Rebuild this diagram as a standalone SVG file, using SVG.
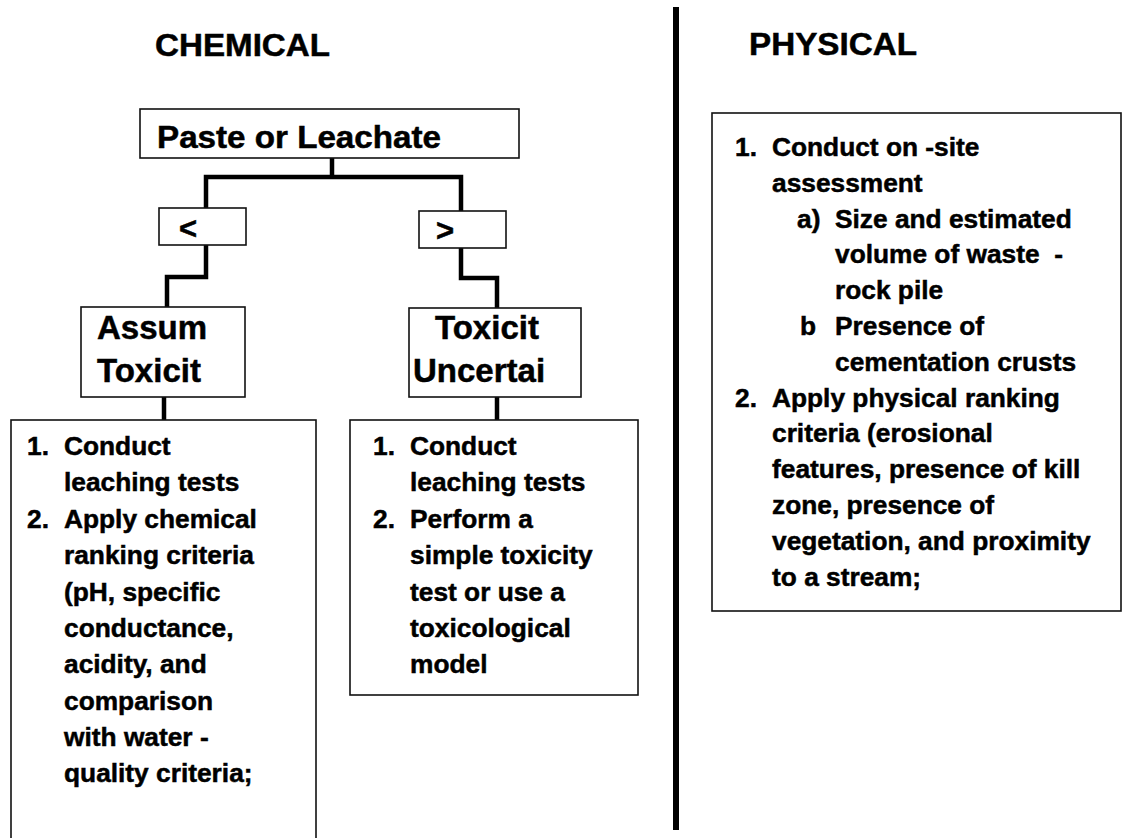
<svg xmlns="http://www.w3.org/2000/svg" width="1124" height="838" viewBox="0 0 1124 838">
<style>
text{font-family:"Liberation Sans",Arial,sans-serif;font-weight:bold;fill:#000;stroke:#000;stroke-width:0.5}
.h{font-size:31px}
.t{font-size:26.3px}
.n{font-size:33px}
.box{fill:#fff;stroke:#111;stroke-width:1.6}
.con{fill:none;stroke:#000;stroke-width:4.5;stroke-linejoin:miter;stroke-linecap:butt}
</style>
<rect width="1124" height="838" fill="#fff"/>
<g id="headings">
<text class="h" x="155" y="56" textLength="175" lengthAdjust="spacingAndGlyphs">CHEMICAL</text>
<text class="h" x="749" y="55" textLength="168" lengthAdjust="spacingAndGlyphs">PHYSICAL</text>
</g>
<rect id="divider" x="673" y="7" width="6" height="823" fill="#000"/>
<g id="connectors">
<path class="con" d="M332,158 V177"/>
<path class="con" d="M206,209 V177 H461 V211"/>
<path class="con" d="M206,245 V277 H167 V307"/>
<path class="con" d="M461,248 V278 H497 V308"/>
<path class="con" d="M164,397 V420"/>
<path class="con" d="M497,397 V420"/>
</g>
<g id="paste">
<rect class="box" x="140" y="109" width="379" height="49"/>
<text class="h" x="157" y="148" textLength="284" lengthAdjust="spacingAndGlyphs">Paste or Leachate</text>
</g>
<g id="lt">
<rect class="box" x="159" y="208" width="87" height="37"/>
<text class="h" x="179" y="239">&lt;</text>
</g>
<g id="gt">
<rect class="box" x="419" y="211" width="87" height="37"/>
<text class="h" x="436" y="241">&gt;</text>
</g>
<g id="assum">
<rect class="box" x="81" y="307" width="164" height="90"/>
<text class="n" x="97" y="339">Assum</text>
<text class="n" x="97" y="382">Toxicit</text>
</g>
<g id="uncertain">
<rect class="box" x="409" y="308" width="172" height="89"/>
<text class="n" x="435" y="339">Toxicit</text>
<text class="n" x="413" y="382">Uncertai</text>
</g>
<g id="chem-steps">
<rect class="box" x="11" y="420" width="305" height="430"/>
<text class="t" x="27" y="455">1.</text>
<text class="t" x="64" y="455">Conduct</text>
<text class="t" x="64" y="491">leaching tests</text>
<text class="t" x="27" y="528">2.</text>
<text class="t" x="64" y="528">Apply chemical</text>
<text class="t" x="64" y="564">ranking criteria</text>
<text class="t" x="64" y="601">(pH, specific</text>
<text class="t" x="64" y="637">conductance,</text>
<text class="t" x="64" y="673">acidity, and</text>
<text class="t" x="64" y="710">comparison</text>
<text class="t" x="64" y="746">with water -</text>
<text class="t" x="64" y="782">quality criteria;</text>
</g>
<g id="tox-steps">
<rect class="box" x="350" y="420" width="288" height="275"/>
<text class="t" x="373" y="455">1.</text>
<text class="t" x="410" y="455">Conduct</text>
<text class="t" x="410" y="491">leaching tests</text>
<text class="t" x="373" y="528">2.</text>
<text class="t" x="410" y="528">Perform a</text>
<text class="t" x="410" y="564">simple toxicity</text>
<text class="t" x="410" y="601">test or use a</text>
<text class="t" x="410" y="637">toxicological</text>
<text class="t" x="410" y="673">model</text>
</g>
<g id="phys-steps">
<rect class="box" x="712" y="113" width="409" height="498"/>
<text class="t" x="735" y="156">1.</text>
<text class="t" x="772" y="156">Conduct on -site</text>
<text class="t" x="772" y="192">assessment</text>
<text class="t" x="797" y="228">a)</text>
<text class="t" x="835" y="228">Size and estimated</text>
<text class="t" x="835" y="263" xml:space="preserve">volume of waste  -</text>
<text class="t" x="835" y="299">rock pile</text>
<text class="t" x="800" y="335">b</text>
<text class="t" x="835" y="335">Presence of</text>
<text class="t" x="835" y="371">cementation crusts</text>
<text class="t" x="735" y="407">2.</text>
<text class="t" x="772" y="407">Apply physical ranking</text>
<text class="t" x="772" y="442">criteria (erosional</text>
<text class="t" x="772" y="478">features, presence of kill</text>
<text class="t" x="772" y="514">zone, presence of</text>
<text class="t" x="772" y="550">vegetation, and proximity</text>
<text class="t" x="772" y="586">to a stream;</text>
</g>
</svg>
